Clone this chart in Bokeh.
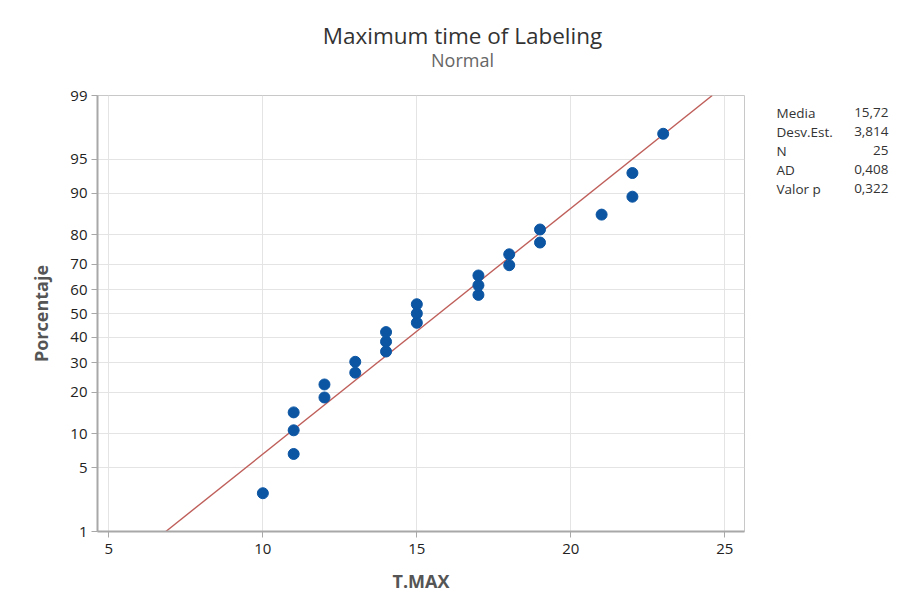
from statistics import NormalDist

import numpy as np
from bokeh.core.properties import value
from bokeh.embed import file_html
from bokeh.layouts import column, row
from bokeh.models import (ColumnDataSource, CustomJSTickFormatter, FixedTicker,
                          Range1d)
from bokeh.plotting import figure
from bokeh.resources import INLINE

# T.MAX observations (sorted)
t_max = [10, 11, 11, 11, 12, 12, 13, 13, 14, 14, 14, 15, 15, 15,
         17, 17, 17, 18, 18, 19, 19, 21, 22, 22, 23]

# Probability-axis tick percentages and labels
pct_ticks = [1, 5, 10, 20, 30, 40, 50, 60, 70, 80, 90, 95, 99]
pct_labels = [str(v) for v in pct_ticks]
x_ticks = [5, 10, 15, 20, 25]

# Summary statistics shown in the side table
ad_stat = "0,408"
p_value = "0,322"

nd = NormalDist()
data = np.array(t_max, dtype=float)
n = len(data)
mean = data.mean()
sd = data.std(ddof=1)

# Median-rank plotting positions, mapped onto the normal probability scale
ranks = np.arange(1, n + 1)
pp = (ranks - 0.3) / (n + 0.4)
z_pts = [nd.inv_cdf(v) for v in pp]

z_ticks = [nd.inv_cdf(v / 100.0) for v in pct_ticks]
z_lo, z_hi = z_ticks[0], z_ticks[-1]

# Fitted normal line from 1% to 99%
fit_z = [z_lo, z_hi]
fit_x = [mean + z * sd for z in fit_z]

FONT = "Open Sans"
TXT = "#333333"
W, H = 904, 604
HEAD = 85              # height of the title strip
SIDE = 144             # width of the statistics strip
FRAME_TOP, FRAME_BOTTOM = 95, 531


def blank(width, height, xr, yr):
    """Axis-less panel whose ranges map straight to pixel positions."""
    f = figure(width=width, height=height, output_backend="svg",
               toolbar_location=None, x_range=xr, y_range=yr,
               min_border=0, min_border_left=0, min_border_right=0,
               min_border_top=0, min_border_bottom=0,
               background_fill_color="white", border_fill_color="white")
    f.axis.visible = False
    f.grid.visible = False
    f.outline_line_color = None
    return f


# Title strip
head = blank(W, HEAD, Range1d(0, W), Range1d(HEAD, 0))
head.text(x=[462], y=[35], text=["Maximum time of Labeling"],
          text_align="center", text_baseline="middle",
          text_font=value(FONT), text_font_size="22.5px", text_color="#333333")
head.text(x=[462], y=[59], text=["Normal"],
          text_align="center", text_baseline="middle",
          text_font=value(FONT), text_font_size="18px", text_color="#666666")

# Probability plot
p = figure(width=W - SIDE, height=H - HEAD, output_backend="svg",
           toolbar_location=None,
           x_range=(4.63, 25.64), y_range=(z_lo, z_hi),
           min_border_left=97, min_border_right=16,
           min_border_top=FRAME_TOP - HEAD, min_border_bottom=H - FRAME_BOTTOM,
           background_fill_color="white", border_fill_color="white")
p.outline_line_color = "#c8c8c8"
p.outline_line_width = 1

p.xgrid.ticker = FixedTicker(ticks=x_ticks)
p.ygrid.ticker = FixedTicker(ticks=z_ticks)
p.xgrid.grid_line_color = "#e4e4e4"
p.ygrid.grid_line_color = "#e4e4e4"

p.xaxis.ticker = FixedTicker(ticks=x_ticks)
p.yaxis.ticker = FixedTicker(ticks=z_ticks)
p.yaxis.formatter = CustomJSTickFormatter(
    args=dict(zpos=z_ticks, names=pct_labels),
    code="""
    for (let i = 0; i < zpos.length; i++) {
        if (Math.abs(zpos[i] - tick) < 1e-6) return names[i];
    }
    return "";
    """)
for ax in (p.xaxis[0], p.yaxis[0]):
    ax.axis_line_color = "#a8a8a8"
    ax.axis_line_width = 2
    ax.major_tick_line_color = "#a8a8a8"
    ax.major_tick_in = 0
    ax.major_tick_out = 6
    ax.minor_tick_line_color = None
    ax.major_label_text_font = FONT
    ax.major_label_text_font_size = "15px"
    ax.major_label_text_color = "#222222"
    ax.axis_label_text_font = FONT
    ax.axis_label_text_font_size = "18px"
    ax.axis_label_text_font_style = "bold"
    ax.axis_label_text_color = "#555555"
p.xaxis.axis_label = "T.MAX"
p.yaxis.axis_label = "Porcentaje"
p.xaxis.major_label_standoff = 6
p.yaxis.major_label_standoff = 4
p.xaxis.axis_label_standoff = 12
p.yaxis.axis_label_standoff = 14

p.line(fit_x, fit_z, line_color="#bf5f5a", line_width=1.4)
src = ColumnDataSource(dict(x=data, z=z_pts))
p.scatter("x", "z", source=src, size=11, fill_color="#0b55a3",
          line_color="#0b55a3")

# Statistics strip; its frame lines up with the plot frame, so the y range
# spans the same pixel rows
stat_names = ["Media", "Desv.Est.", "N", "AD", "Valor p"]
stat_values = [f"{mean:.2f}".replace(".", ","), f"{sd:.3f}".replace(".", ","),
               str(n), ad_stat, p_value]
row_y = [112 + 19 * i for i in range(len(stat_names))]

s = blank(SIDE, H - HEAD, Range1d(W - SIDE, W),
          Range1d(FRAME_BOTTOM, FRAME_TOP))
s.text(x=[776] * len(stat_names), y=row_y, text=stat_names,
       text_align="left", text_baseline="middle", text_font=value(FONT),
       text_font_size="13.5px", text_color=TXT)
s.text(x=[888] * len(stat_values), y=row_y, text=stat_values,
       text_align="right", text_baseline="middle", text_font=value(FONT),
       text_font_size="13.5px", text_color=TXT)

layout = column(head, row(p, s))
open("out.html", "w").write(file_html(layout, INLINE))
